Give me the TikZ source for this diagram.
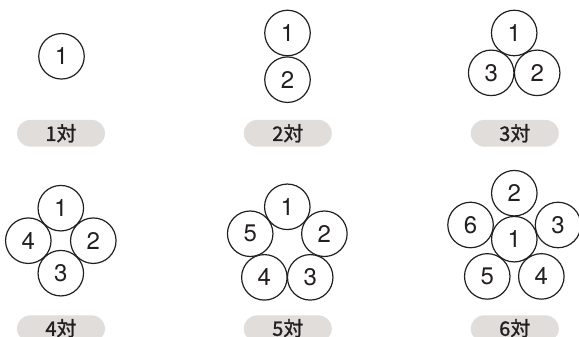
\documentclass[tikz,border=0pt]{standalone}
\usepackage{fontspec}
\setmainfont{TeX Gyre Heros}
\newfontfamily\jpfont{Noto Sans CJK JP}[FakeBold=1.2]
\usepackage{tikz}
\usetikzlibrary{positioning,calc}
\usepackage{xcolor}
\definecolor{ink}{RGB}{35,31,32}
\definecolor{tagbg}{RGB}{225,221,219}

\begin{document}
\begin{tikzpicture}[x=1pt,y=1pt,
  wire/.style={circle,draw=ink,line width=1.2pt,minimum size=45.5pt,inner sep=0pt,
               text=ink,font=\fontsize{24}{24}\selectfont},
  tag/.style={fill=tagbg,rounded corners=13.3pt,minimum width=88pt,minimum height=26.7pt,
              inner sep=0pt,text=ink,font=\jpfont\fontsize{20}{20}\selectfont}]
  \useasboundingbox (0,0) rectangle (579,337);
  % top row
  \node[wire](p11) at (61.5,280.7){1};
  \node[tag](t1) at (61,203.7){1対};
  \node[wire](p21) at (287.5,304){1};
  \node[wire,below=0pt of p21](p22){2};
  \node[tag](t2) at (287.8,203.7){2対};
  \node[wire](p31) at (514.2,304){1};
  \node[wire](p32) at ([shift={(-60:46)}]p31){2};
  \node[wire](p33) at ([shift={(-120:46)}]p31){3};
  \node[tag](t3) at (514.8,203.7){3対};
  % bottom row
  \coordinate(c4) at (60.8,96.3);
  \foreach \k/\a in {1/90,2/0,3/-90,4/180}
    \node[wire](p4\k) at ([shift={(\a:32.5)}]c4){\k};
  \node[tag](t4) at (61,8.3){\raisebox{2.5pt}{4対}};
  \coordinate(c5) at (287.3,91.2);
  \foreach \k in {1,...,5}
    \node[wire](p5\k) at ([shift={({162-72*\k}:39)}]c5){\k};
  \node[tag](t5) at (287.8,8.3){\raisebox{2.5pt}{5対}};
  \coordinate(c6) at (514.3,97.8);
  \node[wire](p61) at (c6){1};
  \foreach \k in {2,...,6}
    \node[wire](p6\k) at ([shift={({234-72*\k}:46)}]c6){\k};
  \node[tag](t6) at (514.8,8.3){\raisebox{2.5pt}{6対}};
\end{tikzpicture}
\end{document}
